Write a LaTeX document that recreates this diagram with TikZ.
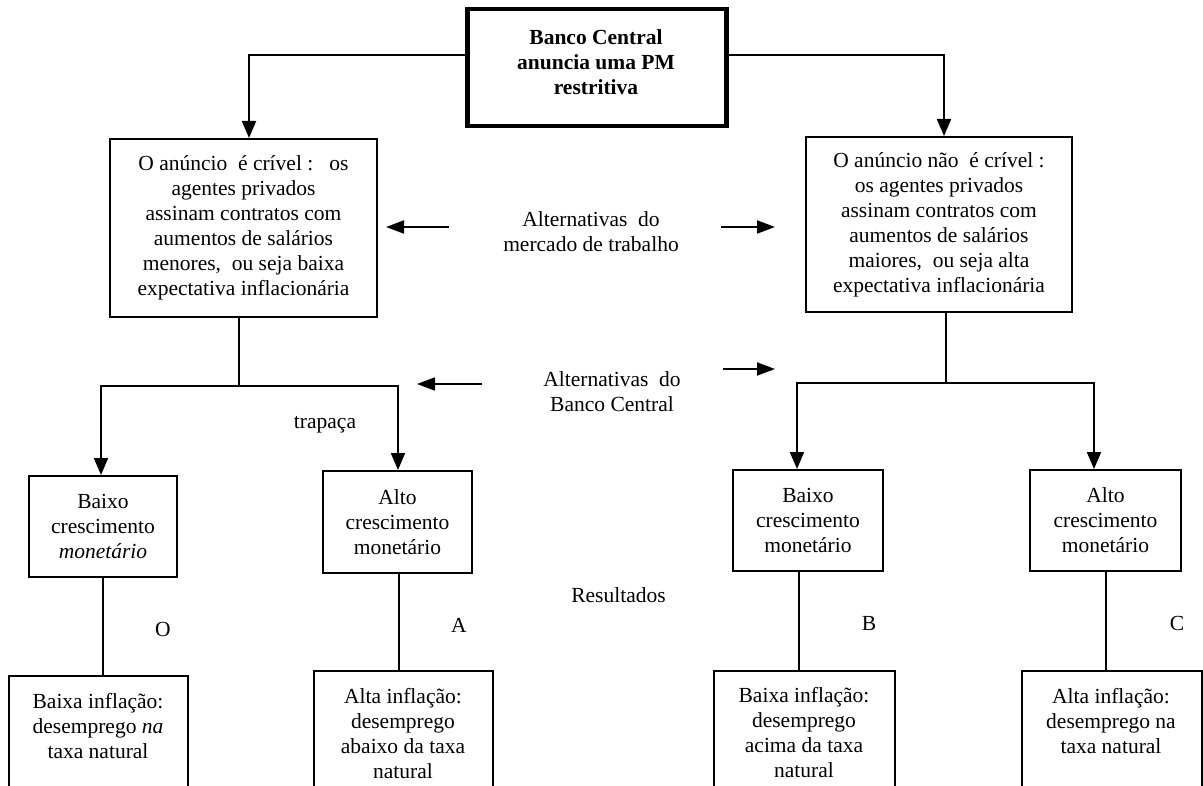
\documentclass[tikz,border=0pt]{standalone}
\usepackage{fontspec}
\setmainfont{Liberation Serif}
\usetikzlibrary{arrows.meta}
\begin{document}
\begin{tikzpicture}[x=1pt,y=-1pt,
  every node/.style={font=\fontsize{21.5}{25}\selectfont, align=center, inner sep=0pt},
  box/.style={draw, line width=2pt},
  topbox/.style={draw, line width=4.5pt},
  link/.style={line width=1.6pt},
  arr/.style={line width=2pt, -{Triangle[length=17pt,width=14pt]}},
  hint/.style={line width=2pt, -{Triangle[length=18pt,width=13pt]}},
  bold/.style={font=\fontsize{21.5}{25}\selectfont\bfseries}]
\useasboundingbox (0,0) rectangle (1203,786);
\clip (0,0) rectangle (1203,786);

% top box
\node[topbox, minimum width=259pt, minimum height=117pt] (top) at (597,67.5) {};
\node[bold] (toptxt) at (596,62) {Banco Central\\anuncia uma PM\\restritiva};

% second row
\node[box, minimum width=267pt, minimum height=178pt] (a1) at (243.5,228)
  {O anúncio\ \ é crível :\ \ \ os\\agentes privados\\assinam contratos com\\aumentos de salários\\menores,\ \ ou seja baixa\\expectativa inflacionária};
\node[box, minimum width=266pt, minimum height=175pt] (a2) at (939,224.5)
  {O anúncio não\ \ é crível :\\os agentes privados\\assinam contratos com\\aumentos de salários\\maiores,\ \ ou seja alta\\expectativa inflacionária};

% third row
\node[box, minimum width=148pt, minimum height=101pt] (b1) at (103,526.5) {Baixo\\crescimento\\\textit{monetário}};
\node[box, minimum width=149pt, minimum height=102pt] (b2) at (397.5,522) {Alto\\crescimento\\monetário};
\node[box, minimum width=150pt, minimum height=101pt] (b3) at (808,520.5) {Baixo\\crescimento\\monetário};
\node[box, minimum width=151pt, minimum height=101pt] (b4) at (1105.5,520.5) {Alto\\crescimento\\monetário};

% bottom row (cut by the page edge)
\node[box, minimum width=179pt, minimum height=150pt] (r1) at (98.5,751) {};
\node[box, minimum width=179pt, minimum height=150pt] (r2) at (403.5,746) {};
\node[box, minimum width=181pt, minimum height=150pt] (r3) at (804.5,746) {};
\node[box, minimum width=180pt, minimum height=150pt] (r4) at (1112,746) {};
\node (r1t) at (98,726.5) {Baixa inflação:\\desemprego \textit{na}\\taxa natural};
\node (r2t) at (403,734) {Alta inflação:\\desemprego\\abaixo da taxa\\natural};
\node (r3t) at (804,732.5) {Baixa inflação:\\desemprego\\acima da taxa\\natural};
\node (r4t) at (1111,721) {Alta inflação:\\desemprego na\\taxa natural};

% middle labels
\node (l1) at (591,232) {Alternativas\ \ do\\mercado de trabalho};
\node (l2) at (612,391.5) {Alternativas\ \ do\\Banco Central};
\node (l3) at (618.5,595) {Resultados};
\node (tr) at (325,425) {trapaça};
\node (o) at (163,629) {O};
\node (la) at (459,625) {A};
\node (lb) at (869,623) {B};
\node (lc) at (1177,623) {C};

% connectors from top
\draw[arr] (top.west |- 0,55) -| ([xshift=5.5pt]a1.north);
\draw[arr] (top.east |- 0,55) -| ([xshift=5pt]a2.north);

% branches
\coordinate (jl) at (239,386);
\draw[link] (a1.south -| jl) -- (jl);
\draw[arr] (jl) -| ([xshift=-2pt]b1.north);
\draw[arr] (jl) -| ([xshift=0.5pt]b2.north);
\coordinate (jr) at (946,383);
\draw[link] (a2.south -| jr) -- (jr);
\draw[arr] (jr) -| ([xshift=-11pt]b3.north);
\draw[arr] (jr) -| ([xshift=-11.5pt]b4.north);

% to results
\draw[link] (b1.south) -- (b1.south |- r1.north);
\draw[link] ([xshift=1.5pt]b2.south) -- ([xshift=1.5pt]b2.south |- r2.north);
\draw[link] ([xshift=-9pt]b3.south) -- ([xshift=-9pt]b3.south |- r3.north);
\draw[link] ([xshift=0.5pt]b4.south) -- ([xshift=0.5pt]b4.south |- r4.north);

% pointer arrows
\coordinate (m1s) at (449,227); \coordinate (m1e) at (386,227);
\coordinate (m2s) at (721,227); \coordinate (m2e) at (775,227);
\coordinate (m3s) at (482,384); \coordinate (m3e) at (417,384);
\coordinate (m4s) at (723,369); \coordinate (m4e) at (775,369);
\draw[hint] (m1s) -- (m1e);
\draw[hint] (m2s) -- (m2e);
\draw[hint] (m3s) -- (m3e);
\draw[hint] (m4s) -- (m4e);
\end{tikzpicture}
\end{document}
